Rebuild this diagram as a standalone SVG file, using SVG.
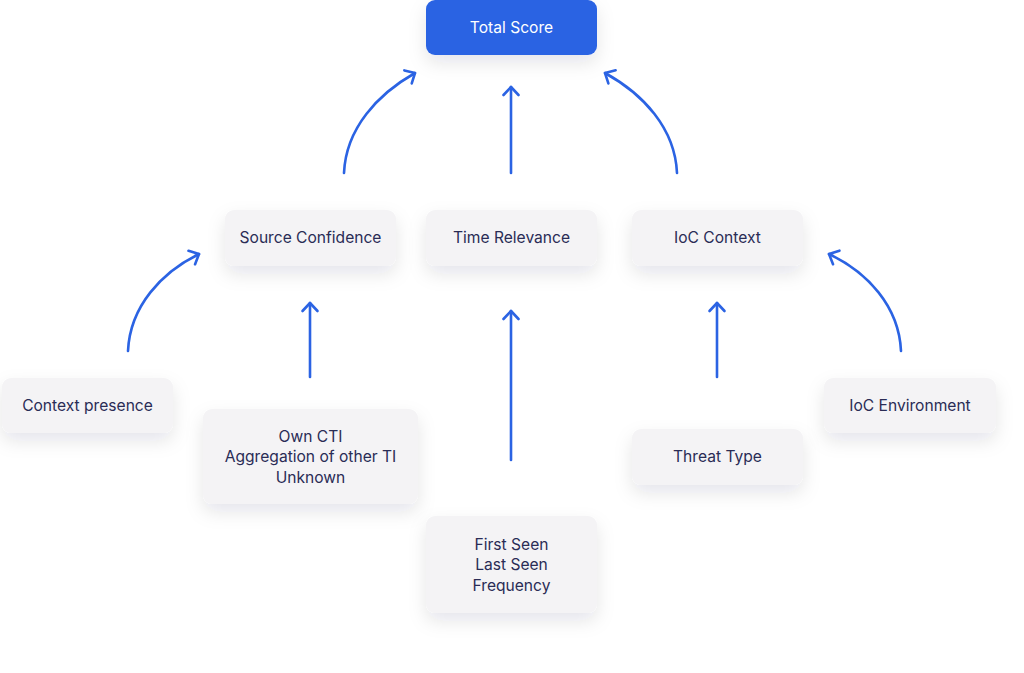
<svg xmlns="http://www.w3.org/2000/svg" width="1024" height="673" viewBox="0 0 1024 673">
<defs>
<filter id="sh" x="-30%" y="-30%" width="160%" height="180%">
<feDropShadow dx="0" dy="8" stdDeviation="9" flood-color="#1a1a40" flood-opacity="0.10"/>
</filter>
<marker id="ah" markerUnits="userSpaceOnUse" markerWidth="24" markerHeight="24" viewBox="-12 -12 24 24" refX="0" refY="0" orient="auto">
<path d="M-8,-7.5 L0,0 L-8,7.5" fill="none" stroke="#2b63e3" stroke-width="2.6" stroke-linecap="round" stroke-linejoin="round"/>
</marker>
</defs>
<style>
.box{fill:#f4f3f5;filter:url(#sh)}
.main{fill:#2b63e3;filter:url(#sh)}
.t{font-family:Inter,"Noto Sans",sans-serif;font-size:15.6px;fill:#2a2c55;text-anchor:middle;dominant-baseline:central}
.tw{fill:#ffffff}
.c{fill:none;stroke:#2b63e3;stroke-width:2.6;stroke-linecap:round;marker-end:url(#ah)}
</style>
<rect width="1024" height="673" fill="#ffffff"/>
<g id="connectors">
<path class="c" d="M344,173 C346,128 378,94 415,73"/>
<path class="c" d="M511,173 L511,87"/>
<path class="c" d="M677,173 C675,128 643,94 605,73"/>
<path class="c" d="M128,351 C130,306 162,272 199,254"/>
<path class="c" d="M310,377 L310,303"/>
<path class="c" d="M511,460 L511,311"/>
<path class="c" d="M717,377 L717,303"/>
<path class="c" d="M901,351 C899,306 867,272 829,254"/>
</g>
<g id="total-score">
<rect class="main" x="426" y="0" width="171" height="55" rx="9"/>
<text class="t tw" x="511.5" y="27.5">Total Score</text>
</g>
<g id="source-confidence">
<rect class="box" x="225" y="210" width="171" height="56" rx="9"/>
<text class="t" x="310.5" y="237.5">Source Confidence</text>
</g>
<g id="time-relevance">
<rect class="box" x="426" y="210" width="171" height="56" rx="9"/>
<text class="t" x="511.5" y="237.5">Time Relevance</text>
</g>
<g id="ioc-context">
<rect class="box" x="632" y="210" width="171" height="56" rx="9"/>
<text class="t" x="717.5" y="237.5">IoC Context</text>
</g>
<g id="context-presence">
<rect class="box" x="2" y="378" width="171" height="55" rx="9"/>
<text class="t" x="87.5" y="405.5">Context presence</text>
</g>
<g id="source-types">
<rect class="box" x="203" y="409" width="215" height="95" rx="9"/>
<text class="t" x="310.5" y="436">Own CTI</text>
<text class="t" x="310.5" y="456.5">Aggregation of other TI</text>
<text class="t" x="310.5" y="477">Unknown</text>
</g>
<g id="seen">
<rect class="box" x="426" y="516" width="171" height="97" rx="9"/>
<text class="t" x="511.5" y="544">First Seen</text>
<text class="t" x="511.5" y="564.5">Last Seen</text>
<text class="t" x="511.5" y="585">Frequency</text>
</g>
<g id="threat-type">
<rect class="box" x="632" y="429" width="171" height="56" rx="9"/>
<text class="t" x="717.5" y="456.5">Threat Type</text>
</g>
<g id="ioc-environment">
<rect class="box" x="824" y="378" width="172" height="55" rx="9"/>
<text class="t" x="910" y="405.5">IoC Environment</text>
</g>
</svg>
